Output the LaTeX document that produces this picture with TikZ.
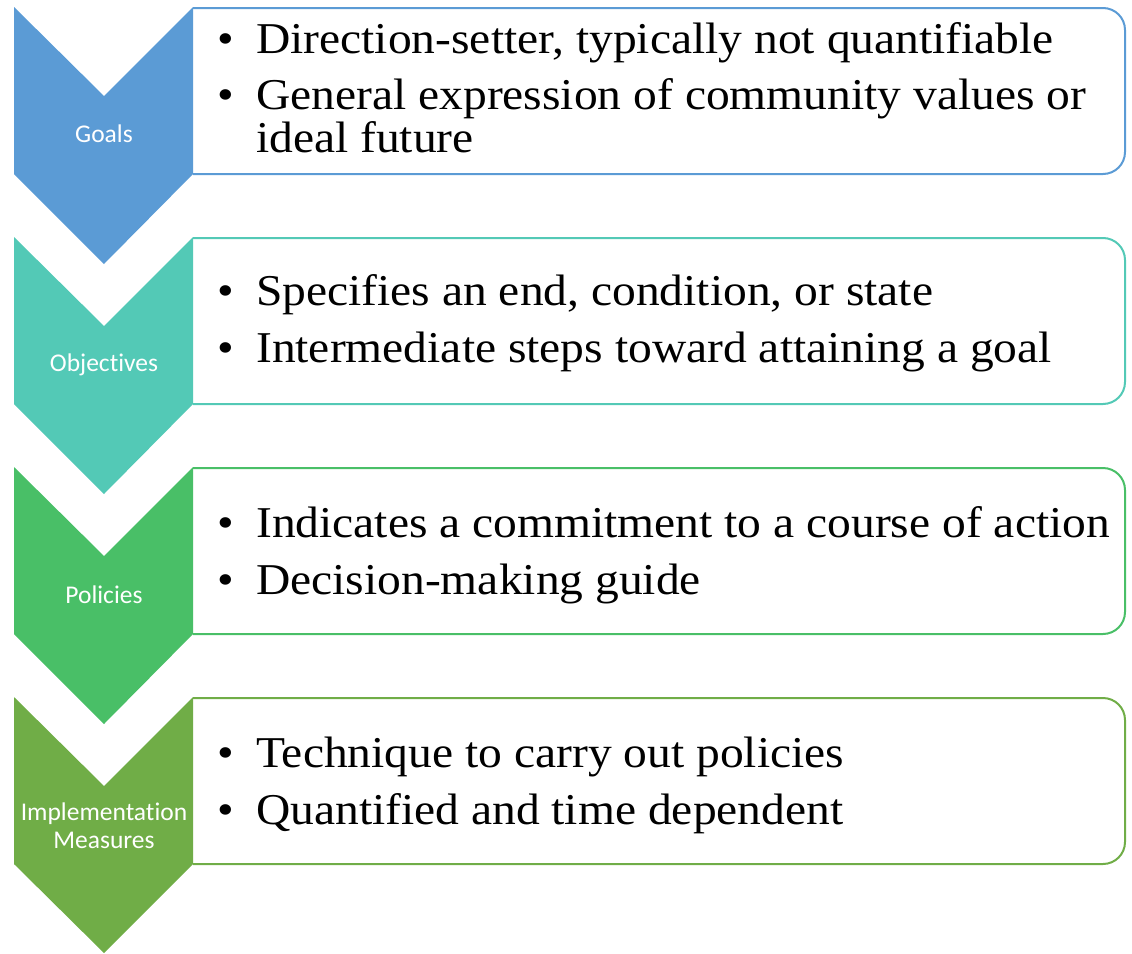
\documentclass[tikz,border=0pt]{standalone}
\usepackage{fontspec}
\setmainfont{Liberation Serif}[FakeStretch=1.08]
\newfontfamily\labfont{Carlito}[Ligatures=NoCommon]
\definecolor{cgoal}{HTML}{5B9BD5}
\definecolor{cobj}{HTML}{53C9B6}
\definecolor{cpol}{HTML}{49BF67}
\definecolor{cimp}{HTML}{70AD47}
\tikzset{
  chev/.style={fill=#1, draw=none},
  boxo/.style={draw=#1, line width=2pt, fill=white, rounded corners=22pt},
  bul/.style={anchor=base west, inner sep=0pt, font=\fontsize{44}{44}\selectfont},
  lbl/.style={font=\labfont\fontsize{25.5}{28}\selectfont, text=white, align=center, inner sep=0pt},
}
\begin{document}
\begin{tikzpicture}[x=1pt,y=-1pt]
\useasboundingbox (0,0) rectangle (1132,953);
% boxes
\draw[boxo=cgoal] (193,8) -- (1125,8) -- (1125,174) -- (193,174);
\draw[boxo=cobj] (193,238) -- (1125,238) -- (1125,404) -- (193,404);
\draw[boxo=cpol] (193,468) -- (1125,468) -- (1125,634) -- (193,634);
\draw[boxo=cimp] (193,698) -- (1125,698) -- (1125,864) -- (193,864);
% chevrons
\fill[chev=cgoal] (14,7) -- (104,96) -- (193,7) -- (193,174) -- (104,264) -- (14,174) -- cycle;
\fill[chev=cobj] (14,237) -- (104,326) -- (193,237) -- (193,404) -- (104,494) -- (14,404) -- cycle;
\fill[chev=cpol] (14,467) -- (104,556) -- (193,467) -- (193,634) -- (104,724) -- (14,634) -- cycle;
\fill[chev=cimp] (14,697) -- (104,786) -- (193,697) -- (193,864) -- (104,953) -- (14,864) -- cycle;
% chevron labels
\node[lbl] (lg) at (104,134) {Goals};
\node[lbl] (lo) at (104,365) {Objectives};
\node[lbl] (lp) at (104,595) {Policies};
\node[lbl] (li) at (104,826) {Implementation\\Measures};
% bullets and texts
\node[bul] (g1b) at (217,53) {\textbullet};
\node[bul] (g1) at (256,53) {Direction-setter, typically not quantifiable};
\node[bul] (g2b) at (217,109) {\textbullet};
\node[bul] (g2) at (256,109) {General expression of community values or};
\node[bul] (g3) at (256,152) {ideal future};
\node[bul] (o1b) at (217,305) {\textbullet};
\node[bul] (o1) at (256,305) {Specifies an end, condition, or state};
\node[bul] (o2b) at (217,362) {\textbullet};
\node[bul] (o2) at (256,362) {Intermediate steps toward attaining a goal};
\node[bul] (p1b) at (217,537) {\textbullet};
\node[bul] (p1) at (256,537) {Indicates a commitment to a course of action};
\node[bul] (p2b) at (217,594) {\textbullet};
\node[bul] (p2) at (256,594) {Decision-making guide};
\node[bul] (i1b) at (217,767) {\textbullet};
\node[bul] (i1) at (256,767) {Technique to carry out policies};
\node[bul] (i2b) at (217,824) {\textbullet};
\node[bul] (i2) at (256,824) {Quantified and time dependent};
\end{tikzpicture}
\end{document}
